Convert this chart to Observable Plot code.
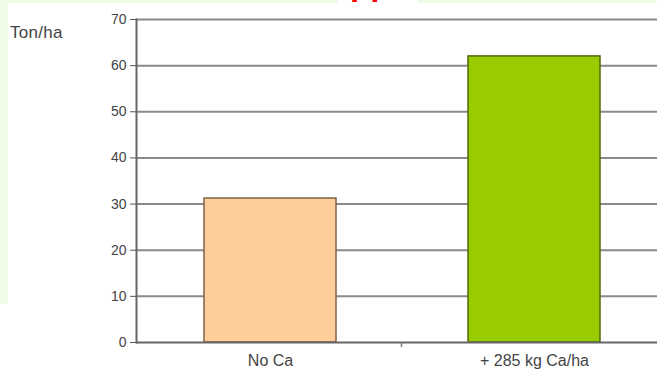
<!DOCTYPE html>
<html><head><meta charset="utf-8">
<script src="https://cdn.jsdelivr.net/npm/d3@7"></script>
<script src="https://cdn.jsdelivr.net/npm/@observablehq/plot@0.6"></script>
<style>
html,body{margin:0;padding:0;background:#fff;width:657px;height:371px;overflow:hidden;font-family:"Liberation Sans",Arial,sans-serif;}
#wrap{position:relative;width:657px;height:371px;}
.strip{position:absolute;background:#effce6;}
#titlebox{position:absolute;left:338px;top:0;width:80px;height:4px;background:#fff;overflow:hidden;}
#titlebox span{position:absolute;left:12px;top:-33px;color:#ff0000;font:bold 33px/33px "Liberation Sans",Arial,sans-serif;white-space:nowrap;}
#ylab{position:absolute;left:10px;top:24px;font-size:17px;line-height:17px;color:#444;letter-spacing:0.3px;}
#chart{position:absolute;left:0;top:0;}
</style>
</head><body>
<div id="wrap">
  <div class="strip" style="left:0;top:0;width:657px;height:3px"></div>
  <div class="strip" style="left:0;top:0;width:8px;height:304px"></div>
  <div id="titlebox"><span>pp</span></div>
  <div id="ylab">Ton/ha</div>
  <div id="chart"></div>
</div>
<script>
const categories = ["No Ca", "+ 285 kg Ca/ha"];
const values = [31.2, 62.0];
const yTicks = [0, 10, 20, 30, 40, 50, 60, 70];
const fills = ["#fdcd9a", "#99cc00"];
const strokes = ["#7f6244", "#4f6b00"];

const data = categories.map((c, i) => ({cat: c, v: values[i]}));

const plot = Plot.plot({
  width: 657, height: 371,
  marginLeft: 136, marginRight: 0, marginTop: 19, marginBottom: 29,
  style: {background: "transparent", fontFamily: "'Liberation Sans', Arial, sans-serif", color: "#444"},
  x: {domain: categories, range: [136, 667], paddingInner: 0.5, paddingOuter: 0.254, label: null},
  y: {domain: [0, 70], label: null},
  marks: [
    Plot.ruleY(yTicks.filter(t => t > 0), {stroke: "#8a8a8a", strokeWidth: 2}),
    ...categories.map((c, i) =>
      Plot.barY(data.filter(d => d.cat === c), {x: "cat", y: "v", fill: fills[i], stroke: strokes[i], strokeWidth: 1.5})
    ),
    Plot.ruleY([0], {stroke: "#666", strokeWidth: 2}),
    Plot.frame({anchor: "left", stroke: "#666", strokeWidth: 2}),
    Plot.axisY({ticks: yTicks, tickSize: 6, tickPadding: 4, fontSize: 14, stroke: "#555", fill: "#444", label: null}),
    Plot.axisX({tickSize: 0, tickPadding: 12, fontSize: 16, fill: "#444", label: null})
  ]
});
document.getElementById("chart").appendChild(plot);

// category separator tick on the x axis
const xs = plot.scale("x"), ys = plot.scale("y");
const xScale = d3.scaleBand().domain(xs.domain).range(xs.range).paddingInner(xs.paddingInner ?? 0.5).paddingOuter(xs.paddingOuter ?? 0.254);
const bx = (xScale(categories[0]) + xScale.bandwidth() + xScale(categories[1])) / 2;
const y0 = ys.apply ? ys.apply(0) : 342;
d3.select(plot).append("line")
  .attr("x1", bx).attr("x2", bx).attr("y1", y0).attr("y2", y0 + 5)
  .attr("stroke", "#777").attr("stroke-width", 1.5);
</script>
</body></html>
